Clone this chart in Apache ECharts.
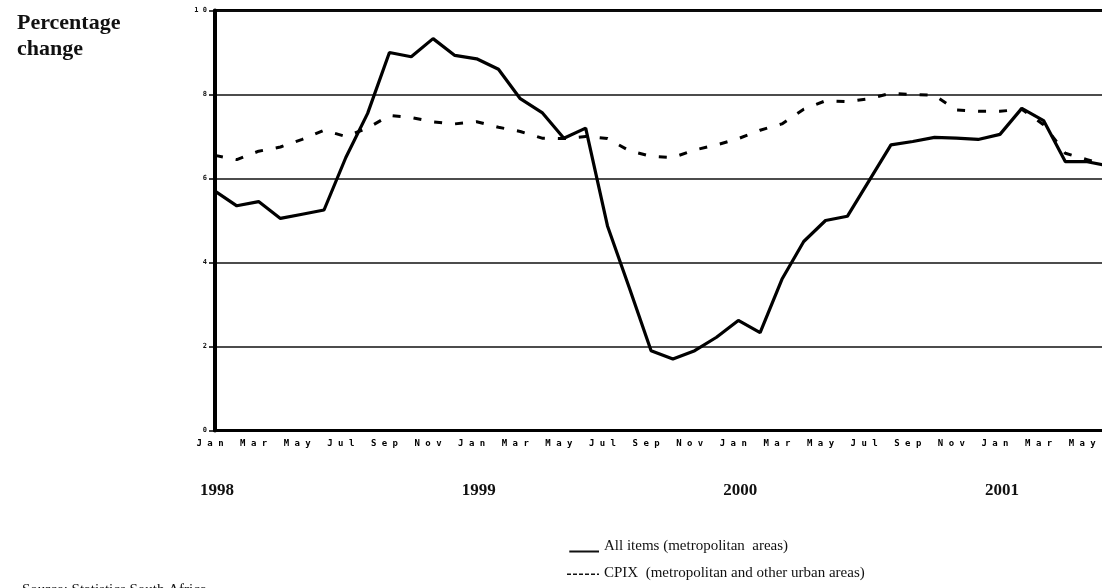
<!DOCTYPE html>
<html>
<head>
<meta charset="utf-8">
<script src="https://cdn.jsdelivr.net/npm/echarts@6/dist/echarts.min.js"></script>
<style>
   html, body { margin: 0; padding: 0; background: #fff; }
   #chart { width: 1102px; height: 588px; }
</style>
</head>
<body>
<div id="chart"></div>
<script>

// months Jan 1998 .. Jun 2001
const monthNames = ['Jan','Feb','Mar','Apr','May','Jun','Jul','Aug','Sep','Oct','Nov','Dec'];
const years = [1998, 1999, 2000, 2001];

// all items (metropolitan areas), percentage change
const allItems = [
   5.7, 5.35, 5.45, 5.05, 5.15, 5.25, 6.5, 7.55, 9.0, 8.9, 9.33, 8.93,
   8.85, 8.6, 7.9, 7.57, 6.96, 7.2, 4.87, 3.4, 1.9, 1.7, 1.9, 2.22,
   2.62, 2.33, 3.6, 4.5, 5.0, 5.1, 5.95, 6.8, 6.88, 6.98, 6.96, 6.93,
   7.05, 7.67, 7.38, 6.4, 6.4, 6.3
];

// CPIX (metropolitan and other urban areas)
const cpix = [
   6.55, 6.45, 6.65, 6.75, 6.93, 7.15, 7.0, 7.2, 7.5, 7.45, 7.35, 7.3,
   7.35, 7.22, 7.12, 6.96, 6.95, 7.0, 6.95, 6.66, 6.53, 6.5, 6.68, 6.8,
   6.95, 7.15, 7.3, 7.65, 7.85, 7.83, 7.9, 8.03, 8.0, 7.98, 7.63, 7.6,
   7.6, 7.65, 7.28, 6.6, 6.45, 6.3
];

const seriesNames = ['All items (metropolitan  areas)', 'CPIX  (metropolitan and other urban areas)'];

// build category list
const months = [];
for (let i = 0; i < allItems.length; i++)
{
   months.push(monthNames[i % 12] + ' ' + (years[0] + Math.floor(i / 12)));
}

const chart = echarts.init(document.getElementById('chart'));

const option =
{
   animation: false,
   backgroundColor: '#fff',
   title:
   {
      text: 'Percentage\nchange',
      left: 12,
      top: 5,
      textStyle: { fontFamily: 'Liberation Serif', fontWeight: 'bold', fontSize: 22, lineHeight: 26, color: '#111' }
   },
   grid:
   {
      // plot runs past the right edge of the picture
      left: 215, width: 894, top: 10.5, bottom: 157.5,
      outerBoundsMode: 'none',
      containLabel: false,
      show: true, borderColor: '#000', borderWidth: 3
   },
   legend:
   {
      orient: 'vertical',
      left: 562,
      top: 534,
      itemWidth: 32,
      itemHeight: 12,
      itemGap: 12,
      symbolKeepAspect: false,
      textStyle: { fontFamily: 'Liberation Serif', fontSize: 15, color: '#111' },
      data:
      [
         { name: seriesNames[0], icon: 'path://M0,0h0.01v0.01h-0.01z M2,9.5h26v2h-26z' },
         { name: seriesNames[1], icon: 'path://M0,0h0.01v0.01h-0.01z M0,12h0.01v0.01h-0.01z M0,6h4v1.5h-4z M6,6h4v1.5h-4z M12,6h4v1.5h-4z M18,6h4v1.5h-4z M24,6h4v1.5h-4z M30,6h2v1.5h-2z' }
      ],
      itemStyle: { color: '#111' }
   },
   graphic:
   [
      {
         type: 'text', left: 22, top: 583,
         style: { text: 'Source: Statistics South Africa', font: '15px "Liberation Serif"', fill: '#111' }
      }
   ],
   xAxis:
   [
      {
         type: 'category',
         data: months,
         boundaryGap: false,
         axisLine: { lineStyle: { color: '#000', width: 3 } },
         axisTick: { show: false },
         axisLabel:
         {
            interval: 1,
            margin: 9,
            padding: [0, 10, 0, 0],
            fontFamily: 'DejaVu Sans Mono',
            fontWeight: 'bold',
            fontSize: 9,
            color: '#000',
            formatter: (v) => v.split(' ')[0].split('').join(' ')
         },
         splitLine: { show: false }
      },
      {
         type: 'category',
         data: months,
         boundaryGap: false,
         position: 'bottom',
         offset: 44,
         axisLine: { show: false },
         axisTick: { show: false },
         axisLabel:
         {
            interval: (idx) => idx % 12 === 0,
            margin: 8,
            padding: [0, 0, 0, 4],
            fontFamily: 'Liberation Serif',
            fontWeight: 'bold',
            fontSize: 17,
            color: '#111',
            formatter: (v) => v.split(' ')[1]
         },
         splitLine: { show: false }
      }
   ],
   yAxis:
   {
      type: 'value',
      min: 0,
      max: 10,
      interval: 2,
      axisLine: { show: true, lineStyle: { color: '#000', width: 4 } },
      axisTick: { show: true, length: 6, lineStyle: { color: '#000', width: 1.5 } },
      axisLabel:
      {
         margin: 8,
         fontFamily: 'DejaVu Sans Mono',
         fontWeight: 'bold',
         fontSize: 7,
         color: '#111',
         formatter: (v) => v === 10 ? '1 0' : String(v)
      },
      splitLine: { show: true, lineStyle: { color: '#111', width: 1.5 } }
   },
   series:
   [
      {
         name: seriesNames[0],
         type: 'line',
         data: allItems,
         symbol: 'none',
         lineStyle: { color: '#000', width: 3.2 },
         itemStyle: { color: '#000' },
         z: 3
      },
      {
         name: seriesNames[1],
         type: 'line',
         data: cpix,
         symbol: 'none',
         lineStyle: { color: '#000', width: 3, type: [8, 13] },
         itemStyle: { color: '#000' },
         z: 2
      }
   ]
};

chart.setOption(option);

</script>
</body>
</html>
